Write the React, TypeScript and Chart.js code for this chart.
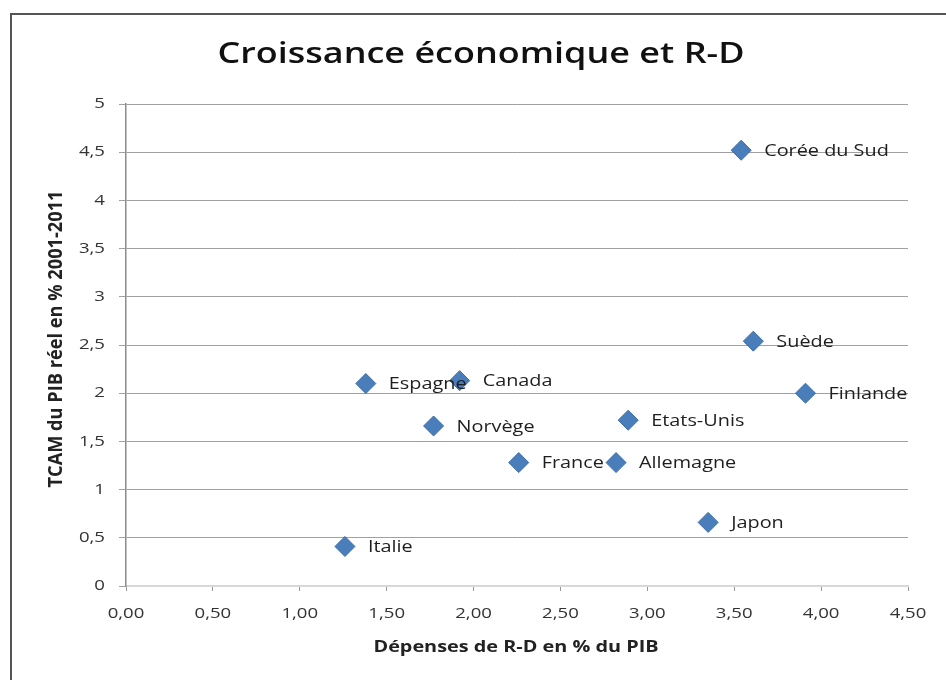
import React, { useEffect, useRef } from "react";
import { Chart, registerables } from "chart.js";

Chart.register(...registerables);

const countries = ["Corée du Sud", "Suède", "Finlande", "Espagne", "Canada", "Norvège", "Etats-Unis", "France", "Allemagne", "Japon", "Italie"];
const rdSpending = [3.54, 3.61, 3.91, 1.38, 1.92, 1.77, 2.89, 2.26, 2.82, 3.35, 1.26];
const gdpGrowth = [4.52, 2.54, 2.0, 2.1, 2.13, 1.66, 1.72, 1.28, 1.28, 0.66, 0.41];

const titleText = "Croissance économique et R-D";
const xTitle = "Dépenses de R-D en % du PIB";
const yTitle = "TCAM du PIB réel en % 2001-2011";
const FONT = "'Open Sans', 'Liberation Sans', sans-serif";
const STRETCH = 1.24;

function stretchText(ctx: any, text: string, x: number, y: number, align: "left" | "center" | "right") {
  ctx.save();
  ctx.translate(x, y);
  ctx.scale(STRETCH, 1);
  ctx.textAlign = align;
  ctx.textBaseline = "middle";
  ctx.fillText(text, 0, 0);
  ctx.restore();
}

const overlay = {
  id: "overlay",
  afterDatasetsDraw(chart: any) {
    const { ctx, chartArea, scales } = chart;
    const meta = chart.getDatasetMeta(0);
    ctx.save();
    // frame
    ctx.strokeStyle = "#555";
    ctx.lineWidth = 2;
    ctx.strokeRect(11, 14, 960, 700);
    // title
    ctx.fillStyle = "#111";
    ctx.font = `600 29px ${FONT}`;
    stretchText(ctx, titleText, 481, 55, "center");
    // tick labels
    ctx.font = `15px ${FONT}`;
    ctx.fillStyle = "#333";
    scales.x.ticks.forEach((t: any) => {
      const px = scales.x.getPixelForValue(t.value);
      stretchText(ctx, Number(t.value).toFixed(2).replace(".", ","), px, 614, "center");
    });
    scales.y.ticks.forEach((t: any) => {
      const py = scales.y.getPixelForValue(t.value);
      stretchText(ctx, String(t.value).replace(".", ","), chartArea.left - 21, py, "right");
    });
    // axis titles
    ctx.font = `bold 16px ${FONT}`;
    ctx.fillStyle = "#222";
    stretchText(ctx, xTitle, 516, 647, "center");
    ctx.save();
    ctx.font = `bold 16px ${FONT}`;
    const w = ctx.measureText(yTitle).width;
    ctx.translate(57, 339);
    ctx.rotate(-Math.PI / 2);
    ctx.scale(297 / w, 1.2);
    ctx.textAlign = "center";
    ctx.textBaseline = "middle";
    ctx.fillText(yTitle, 0, 0);
    ctx.restore();
    // point labels
    ctx.font = `16px ${FONT}`;
    ctx.fillStyle = "#1e1e1e";
    meta.data.forEach((pt: any, i: number) => {
      stretchText(ctx, countries[i], pt.x + 23, pt.y + 1, "left");
    });
    ctx.restore();
  },
};

export default function App() {
  const ref = useRef<HTMLCanvasElement>(null);
  useEffect(() => {
    if (!ref.current) return;
    const chart = new Chart(ref.current, {
      type: "scatter",
      data: {
        datasets: [
          {
            data: rdSpending.map((x, i) => ({ x, y: gdpGrowth[i] })),
            pointStyle: "rectRot",
            pointRadius: 10,
            backgroundColor: "#4a7ebb",
            borderColor: "#3b6ca8",
            borderWidth: 1,
          },
        ],
      },
      plugins: [overlay],
      options: {
        responsive: false,
        animation: false,
        layout: { padding: { top: 104, right: 38, left: 0, bottom: 0 } },
        plugins: { legend: { display: false }, tooltip: { enabled: false }, title: { display: false } },
        scales: {
          x: {
            type: "linear",
            min: 0,
            max: 4.5,
            afterFit: (s: any) => { s.height = 94; },
            ticks: { stepSize: 0.5, display: false },
            grid: { drawOnChartArea: false, drawTicks: true, tickLength: 5, color: "#999" },
            border: { color: "#d8d8d8", width: 2 },
          },
          y: {
            type: "linear",
            min: 0,
            max: 5,
            afterFit: (s: any) => { s.width = 126; },
            ticks: { stepSize: 0.5, display: false },
            grid: { color: "#a0a0a0", tickLength: 7, lineWidth: 1 },
            border: { color: "#8c8c8c", width: 1.5 },
          },
        },
      },
    });
    return () => chart.destroy();
  }, []);
  return (
    <div style={{ position: "absolute", left: 0, top: 0, width: 946, height: 680, background: "#fff" }}>
      <canvas ref={ref} width={946} height={680} style={{ display: "block" }} />
    </div>
  );
}
